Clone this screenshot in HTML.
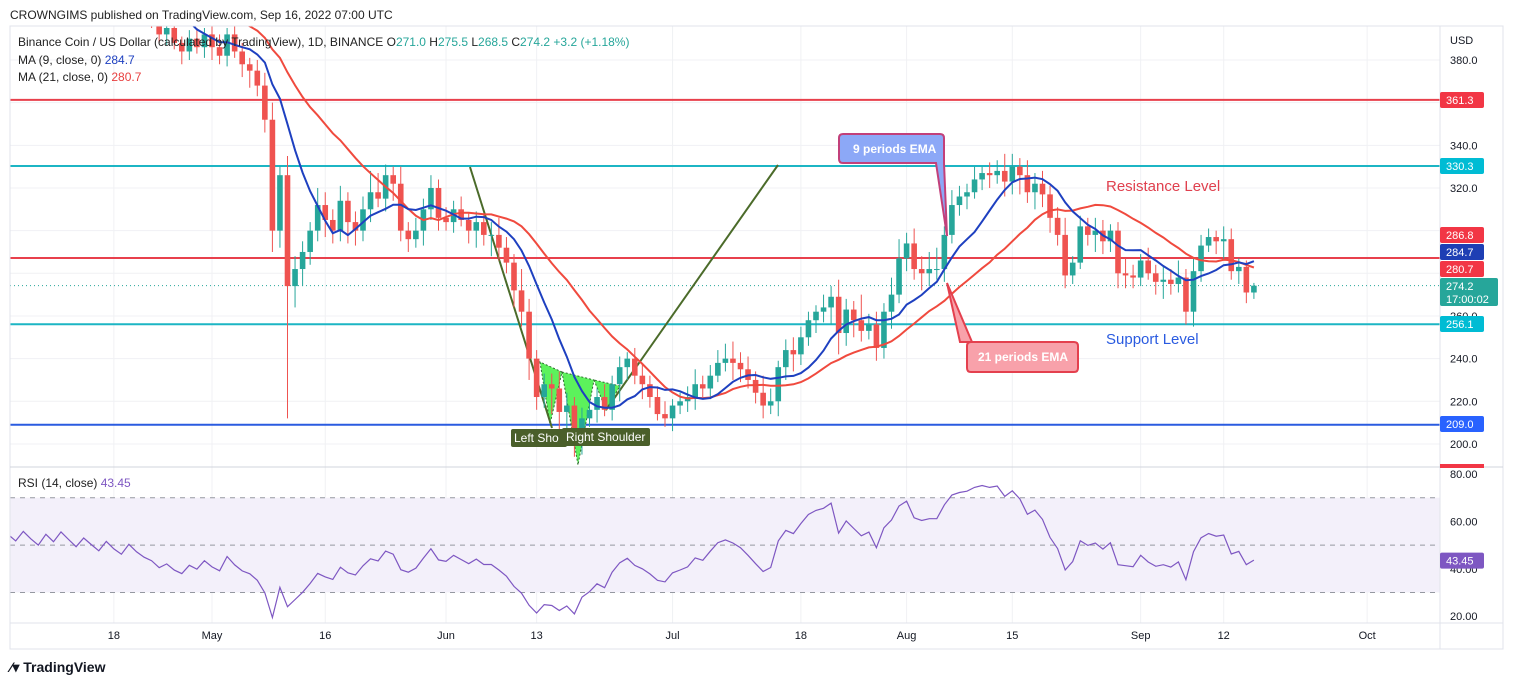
<!DOCTYPE html>
<html><head><meta charset="utf-8"><style>
body{margin:0;background:#fff;font-family:"Liberation Sans",sans-serif;}
svg text{font-family:"Liberation Sans",sans-serif;}
</style></head><body>
<svg id="chart" width="1514" height="685" viewBox="0 0 1514 685" xmlns="http://www.w3.org/2000/svg">
<rect width="1514" height="685" fill="#fff"/>
<g id="grid"></g>
<g id="levels"></g>
<g id="pattern">
<polygon points="540,362 550,424 562,372" fill="#5cf25c" stroke="#2f6b2f" stroke-dasharray="2,2"/>
<polygon points="562,372 578,465 594,380" fill="#5cf25c" stroke="#2f6b2f" stroke-dasharray="2,2"/>
<polygon points="594,380 606,410 620,386" fill="#5cf25c" stroke="#2f6b2f" stroke-dasharray="2,2"/>
<line x1="470" y1="167" x2="552" y2="428" stroke="#4b6b2a" stroke-width="2"/>
<line x1="606" y1="410" x2="778" y2="165" stroke="#4b6b2a" stroke-width="2"/>
</g>
<g id="candles"></g>
<g id="mas"></g>
<g id="rsi"></g>
<g id="anno">
<rect x="511" y="429" width="56" height="18" rx="2" fill="#4a5f2a"/>
<text x="514" y="442" font-size="12" fill="#fff">Left Sho</text>
<rect x="562" y="428" width="88" height="18" rx="2" fill="#4a5f2a"/>
<text x="566" y="441" font-size="12" fill="#fff">Right Shoulder</text>
<path d="M843,134 H940 Q944,134 944,138 V163 L947,236 L936,163 H843 Q839,163 839,159 V138 Q839,134 843,134Z" fill="#8ca8f7" stroke="#c2407a" stroke-width="2"/>
<text x="853" y="153" font-size="12" fill="#fff" font-weight="bold">9 periods EMA</text>
<path d="M971,342 H1074 Q1078,342 1078,346 V368 Q1078,372 1074,372 H971 Q967,372 967,368 V346 Q967,342 971,342Z M947,283 L972,342 L960,342Z" fill="#f8a1aa" stroke="#e4404e" stroke-width="2"/>
<text x="978" y="361" font-size="12" fill="#fff" font-weight="bold">21 periods EMA</text>
<text x="1106" y="191" font-size="15" fill="#e0404e">Resistance Level</text>
<text x="1106" y="344" font-size="15" fill="#2a5be0">Support Level</text>
</g>
<g id="axes"></g>
<g>
<text x="10" y="19" font-size="12" fill="#222">CROWNGIMS published on TradingView.com, Sep 16, 2022 07:00 UTC</text>
<text x="18" y="46" font-size="12" fill="#222">Binance Coin / US Dollar (calculated by TradingView), 1D, BINANCE  O<tspan fill="#26a69a">271.0</tspan>  H<tspan fill="#26a69a">275.5</tspan>  L<tspan fill="#26a69a">268.5</tspan>  C<tspan fill="#26a69a">274.2</tspan>  <tspan fill="#26a69a">+3.2 (+1.18%)</tspan></text>
<text x="18" y="64" font-size="12" fill="#222">MA (9, close, 0)  <tspan fill="#1e40c0">284.7</tspan></text>
<text x="18" y="81" font-size="12" fill="#222">MA (21, close, 0)  <tspan fill="#e84040">280.7</tspan></text>
<text x="18" y="487" font-size="12" fill="#222">RSI (14, close)  <tspan fill="#7e57c2">43.45</tspan></text>
<text x="10" y="672" font-size="14" font-weight="bold" fill="#131722">⁄▾ TradingView</text>
</g>
</svg>
<script>
const preCloses=[420,412,424,416,410,421,409,417,406,414,403,411,400,409,397,405,394,401,392,398];
const closes=[425,418,430,422,415,428,420,432,424,416,426,419,412,422,414,408,418,410,404,400,
392,395,388,384,390,386,392,
386,382,392,384,378,375,368,
352,300,326,274,282,290,300,
312,305,300,314,304,300,310,
318,315,326,322,300,296,300,
310,320,306,304,310,305,300,
304,298,298,292,285,272,262,
240,222,228,226,215,218,200,
212,216,222,216,228,236,240,
232,228,222,214,212,218,220,
222,228,226,232,238,240,238,
235,230,224,218,220,236,244,
242,250,258,262,264,269,252,
263,258,253,256,245,262,270,
287,294,282,280,282,282,298,
312,316,318,324,327,326,328,
323,330,326,318,322,317,306,
298,279,285,302,298,300,295,
300,280,279,278,286,280,276,
277,275,278,262,281,293,297,295,296,281,283,271,274.2];
const wickUp=[4,3,5,3,4,5,3,4,3,5,4,3,5,4,3,4,5,3,4,5,
4,3,5,3,4,5,3,4,6,3,5,4,3,5,6,8,4,9,6,5,4,8,6,5,7,4,5,6,10,9,5,4,8,4,6,5,6,4,5,4,6,3,5,4,6,8,5,4,10,6,4,5,5,8,6,4,5,3,4,6,4,5,3,5,6,4,5,6,3,4,5,7,4,5,6,7,8,5,6,4,8,6,3,5,6,5,4,3,6,5,8,5,4,12,5,6,4,8,9,5,7,6,8,10,4,7,5,4,6,3,5,5,8,6,4,7,5,6,4,5,8,3,5,4,6,5,3,4,7,5,3,6,4,6,5,8,4,6,5,4,3,6,5,4,3,1.3];
const wickDn=[4,3,5,3,4,5,3,4,3,5,4,3,5,4,3,4,5,3,4,5,
4,5,3,6,4,3,5,6,4,5,3,6,8,5,6,10,8,62,10,8,6,5,8,6,5,10,7,5,6,4,6,8,5,6,4,7,5,6,4,5,3,6,8,5,10,6,5,8,7,10,6,5,12,8,16,6,5,4,6,3,5,8,6,4,7,5,3,4,6,4,5,6,4,5,3,4,8,6,4,5,6,4,7,6,8,5,4,6,5,8,10,6,8,5,4,6,5,8,4,6,5,8,6,5,6,4,5,6,3,5,6,4,7,6,9,5,8,6,7,5,6,4,3,5,8,6,5,7,6,5,4,3,6,8,5,4,6,7,5,3,6,9,4,6,5,3];
const priceTicks=[380,340,320,300,260,240,220,200];
const rsiTicks=[80,60,40,20];
const xLabels=["18","May","16","Jun","13","Jul","18","Aug","15","Sep","12","Oct"];
const xLabelDays=[-13,0,15,31,43,61,78,92,106,123,134,153];
const levelValues=[361.3,330.3,287.2,256.1,209.0];
const levelColors=["#e8404c","#1cb5c4","#e8404c","#1cb5c4","#2a5be0"];
const tagValues=[361.3,330.3,286.8,284.7,280.7,274.2,256.1,209.0];
const tagColors=["#f23645","#00bcd4","#f23645","#1e3fb4","#f23645","#26a69a","#00bcd4","#2962ff"];
const tagY=[100,166,235,252,269,286,324,424];
const firstDay=-27;
const NS="http://www.w3.org/2000/svg";
const X=d=>212+d*7.55, Y=p=>60+(380-p)*2.133, RY=v=>474+(80-v)*2.37;
const L=10,R=1440,TOP=26,PB=467,RB=623;
function mk(tag,attrs,parent){const e=document.createElementNS(NS,tag);for(const k in attrs)e.setAttribute(k,attrs[k]);parent.appendChild(e);return e;}
const grid=document.getElementById('grid');
for(let i=0;i<xLabelDays.length;i++){const l=mk('line',{x1:X(xLabelDays[i]),x2:X(xLabelDays[i]),y1:TOP,y2:RB,stroke:'#f0f1f4'},grid);

}
for(let p=200;p<=380;p+=20){const l=mk('line',{x1:L,x2:R,y1:Y(p),y2:Y(p),stroke:'#f0f1f4'},grid);

}
mk('rect',{x:L,y:RY(70),width:R-L,height:RY(30)-RY(70),fill:'#f3f0fa'},grid);
[70,50,30].forEach(v=>mk('line',{x1:L,x2:R,y1:RY(v),y2:RY(v),stroke:'#9598a1','stroke-dasharray':'5,5'},grid));
const lv=document.getElementById('levels');
levelValues.forEach((v,i)=>{const l=mk('line',{x1:L,x2:R,y1:Y(v),y2:Y(v),stroke:levelColors[i],'stroke-width':2},lv);

});
mk('line',{x1:L,x2:R,y1:Y(274.2),y2:Y(274.2),stroke:'#26a69a','stroke-dasharray':'1,3'},lv);
const cg=document.getElementById('candles');
const clip=mk('clipPath',{id:'pc'},cg);mk('rect',{x:L,y:TOP,width:R-L,height:PB-TOP},clip);
const clip2=mk('clipPath',{id:'rc'},cg);mk('rect',{x:L,y:PB,width:R-L,height:RB-PB},clip2);
const cgi=mk('g',{'clip-path':'url(#pc)'},cg);
for(let i=0;i<closes.length;i++){
 const o=i==0?398:closes[i-1], c=closes[i], d=firstDay+i, x=X(d);
 const col=c>=o?'#26a69a':'#ef5350';
 const wu=wickUp[i]!==undefined?wickUp[i]:3, wd=wickDn[i]!==undefined?wickDn[i]:3;
 const hi=Math.max(o,c)+wu, lo=Math.min(o,c)-wd;
 mk('line',{x1:x,x2:x,y1:Y(hi),y2:Y(lo),stroke:col},cgi);
 const r=mk('rect',{x:x-2.8,y:Y(Math.max(o,c)),width:5.6,height:Math.max(1,Math.abs(Y(o)-Y(c))),fill:col},cgi);
 
 
}
const all=preCloses.concat(closes);
function ma(n){const pts=[];for(let i=0;i<closes.length;i++){const j=i+preCloses.length;let s=0;for(let k=j-n+1;k<=j;k++)s+=all[k];pts.push(X(firstDay+i).toFixed(1)+','+Y(s/n).toFixed(1));}return pts.join(' ');}
const mg=mk('g',{'clip-path':'url(#pc)'},document.getElementById('mas'));
const m21=mk('polyline',{points:ma(21),fill:'none',stroke:'#f04a3e','stroke-width':2},mg);


const m9=mk('polyline',{points:ma(9),fill:'none',stroke:'#1e40c0','stroke-width':2},mg);


// RSI
let ag=0,al=0;const rp=[];
for(let j=1;j<all.length;j++){const ch=all[j]-all[j-1];const g=Math.max(ch,0),l=Math.max(-ch,0);
 if(j<=14){ag+=g/14;al+=l/14;}else{ag=(ag*13+g)/14;al=(al*13+l)/14;}
 const i=j-preCloses.length; if(i>=0){const v=al==0?100:100-100/(1+ag/al);rp.push(X(firstDay+i).toFixed(1)+','+RY(v).toFixed(1));}}
const rg=mk('g',{'clip-path':'url(#rc)'},document.getElementById('rsi'));
const rl=mk('polyline',{points:rp.join(' '),fill:'none',stroke:'#7e57c2','stroke-width':1.2},rg);


// axes
const ax=document.getElementById('axes');
mk('rect',{x:L,y:TOP,width:1503-L,height:649-TOP,fill:'none',stroke:'#e0e3eb'},ax);
mk('line',{x1:R,x2:R,y1:TOP,y2:649,stroke:'#e0e3eb'},ax);
mk('line',{x1:L,x2:1503,y1:PB,y2:PB,stroke:'#d1d4dc'},ax);
mk('line',{x1:L,x2:1503,y1:RB,y2:RB,stroke:'#e0e3eb'},ax);
mk('text',{x:1450,y:44,'font-size':11,fill:'#131722'},ax).textContent='USD';
priceTicks.forEach(p=>{const t=mk('text',{x:1450,y:Y(p)+4,'font-size':11,fill:'#131722'},ax);t.textContent=p.toFixed(1);

});
rsiTicks.forEach(v=>{const t=mk('text',{x:1450,y:RY(v)+4,'font-size':11,fill:'#131722'},ax);t.textContent=v.toFixed(2);

});
tagValues.forEach((v,i)=>{const h=i==5?28:16;mk('rect',{x:1440,y:tagY[i]-8,width:i==5?58:44,height:h,rx:2,fill:tagColors[i]},ax);
 const t=mk('text',{x:1446,y:tagY[i]+4,'font-size':11,fill:'#fff'},ax);t.textContent=v.toFixed(1);
 
 
 if(i==5){mk('text',{x:1446,y:tagY[i]+17,'font-size':11,fill:'#fff'},ax).textContent='17:00:02';}});
mk('rect',{x:1440,y:464,width:44,height:4,fill:'#f23645'},ax);
mk('rect',{x:1440,y:RY(43.45)-8,width:44,height:16,rx:2,fill:'#7e57c2'},ax);
mk('text',{x:1446,y:RY(43.45)+4,'font-size':11,fill:'#fff'},ax).textContent='43.45';
xLabels.forEach((s,i)=>{const t=mk('text',{x:X(xLabelDays[i]),y:639,'font-size':11,fill:'#131722','text-anchor':'middle'},ax);t.textContent=s;

});
</script>
</body></html>
